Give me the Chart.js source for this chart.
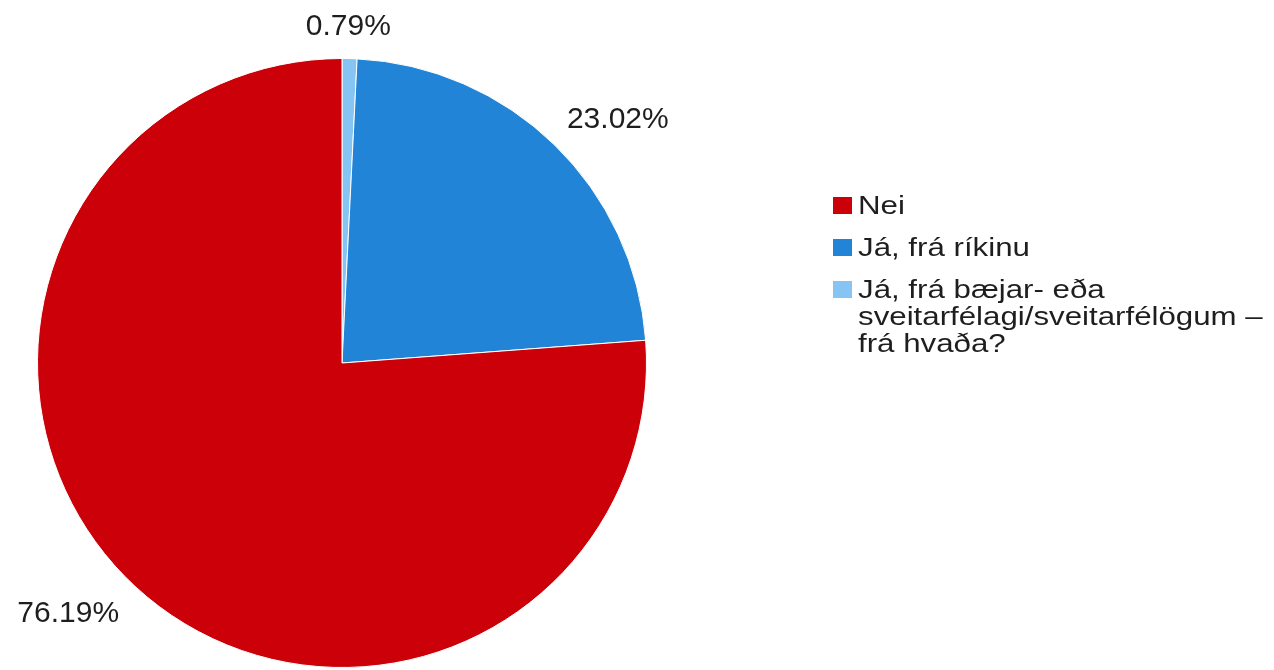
<!DOCTYPE html>
<html>
<head>
<meta charset="utf-8">
<script src="https://cdn.jsdelivr.net/npm/chart.js@4.4.1/dist/chart.umd.min.js"></script>
<style>
  html, body { margin: 0; padding: 0; background: #fff; }
  #wrap { position: relative; width: 1274px; height: 670px; }
  #legend { position: absolute; left: 833px; top: 192px; font-family: "Liberation Sans", Arial, sans-serif; font-size: 25px; color: #1e1e1e; }
  .item { display: flex; align-items: flex-start; margin-bottom: 15px; line-height: 27px; }
  .box { width: 19px; height: 17px; margin-top: 5px; margin-right: 6px; flex: none; }
  .text { transform: scaleX(1.25); transform-origin: left top; white-space: nowrap; }
</style>
</head>
<body>
<div id="wrap">
  <canvas id="pieChart" width="1274" height="670"></canvas>
  <div id="legend"></div>
</div>
<script>
// slices in the order they are drawn, clockwise from 12 o'clock
const labels = [
    ['Já, frá bæjar- eða', 'sveitarfélagi/sveitarfélögum –', 'frá hvaða?'],
    'Já, frá ríkinu',
    'Nei'
];
const values = [0.79, 23.02, 76.19];
const colors = ['#86c4f3', '#2284d6', '#cc0008'];
// legend lists the answers in this order
const legendOrder = [2, 1, 0];

// percentage labels outside each slice
const outsideLabels = {
    id: 'outsideLabels',
    afterDatasetsDraw(chart) {
        const ctx = chart.ctx;
        const arcs = chart.getDatasetMeta(0).data;
        ctx.save();
        ctx.font = '30px "Liberation Sans", Arial, sans-serif';
        ctx.fillStyle = '#1e1e1e';
        ctx.textBaseline = 'middle';
        arcs.forEach(function(arc, i) {
            const mid = (arc.startAngle + arc.endAngle) / 2;
            const r = arc.outerRadius + 32;
            let x = arc.x + r * Math.cos(mid);
            let y = arc.y + r * Math.sin(mid);
            const c = Math.cos(mid);
            if (Math.abs(c) < 0.3) {
                ctx.textAlign = 'center';
                x -= 2;
            } else if (c > 0) {
                ctx.textAlign = 'left';
                x -= 10;
                y -= 2;
            } else {
                ctx.textAlign = 'right';
                x += 6;
                y += 4;
            }
            ctx.fillText(values[i].toFixed(2) + '%', x, y);
        });
        ctx.restore();
    }
};

document.addEventListener('DOMContentLoaded', function() {
    const ctx = document.getElementById('pieChart').getContext('2d');
    const pieChart = new Chart(ctx, {
        type: 'pie',
        data: {
            labels: labels,
            datasets: [{
                data: values,
                backgroundColor: colors,
                borderColor: '#ffffff',
                borderWidth: 1
            }]
        },
        options: {
            responsive: false,
            animation: false,
            layout: {
                padding: { left: 37, right: 627, top: 58, bottom: 2 }
            },
            plugins: {
                legend: { display: false },
                tooltip: { enabled: false }
            }
        },
        plugins: [outsideLabels]
    });

    // HTML legend built from the same arrays
    const legend = document.getElementById('legend');
    legendOrder.forEach(function(i) {
        const item = document.createElement('div');
        item.className = 'item';
        const box = document.createElement('div');
        box.className = 'box';
        box.style.background = colors[i];
        const text = document.createElement('div');
        text.className = 'text';
        text.innerHTML = [].concat(labels[i]).join('<br>');
        item.appendChild(box);
        item.appendChild(text);
        legend.appendChild(item);
    });
});
</script>
</body>
</html>
